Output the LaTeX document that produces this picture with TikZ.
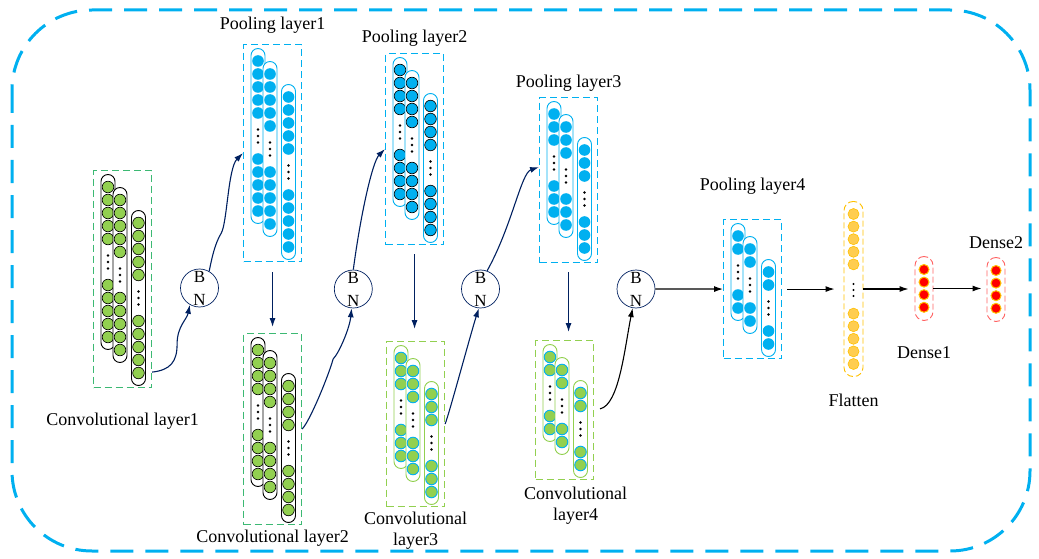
\documentclass[tikz,border=0pt]{standalone}
\usepackage{fontspec}
\setmainfont{Liberation Serif}
\usetikzlibrary{positioning,arrows.meta,calc}
\definecolor{skyblue}{RGB}{0,176,240}
\definecolor{leafgreen}{RGB}{146,208,80}
\definecolor{boxgreen}{RGB}{60,185,115}
\definecolor{navyline}{RGB}{0,32,96}
\definecolor{amber}{RGB}{255,192,0}
\definecolor{paleamber}{RGB}{255,205,80}
\definecolor{palered}{RGB}{255,100,100}
\tikzset{
  lbl/.style={font=\fontsize{18}{21}\selectfont, inner sep=0pt, align=center},
  bnorm/.style={circle, draw=navyline, line width=0.7pt, minimum size=38pt, inner sep=0pt, align=center, font=\fontsize{17}{23}\selectfont},
  flow/.style={-{Latex[length=9pt,width=6pt]}, navyline, line width=1.1pt},
  blackflow/.style={-{Latex[length=9pt,width=6pt]}, black, line width=1.1pt},
  mapbox/.style={line width=1.1pt, dash pattern=on 7pt off 4pt, minimum width=58pt, inner sep=0pt},
  convbox/.style={mapbox, draw=boxgreen},
  poolbox/.style={mapbox, draw=skyblue},
  lightbox/.style={mapbox, draw=leafgreen},
  convcap/.style={draw=black, fill=white, line width=0.9pt, rounded corners=7pt},
  poolcap/.style={draw=skyblue, fill=white, line width=0.9pt, rounded corners=7pt},
  lightcap/.style={draw=leafgreen, fill=white, line width=0.9pt, rounded corners=7pt},
  convunit/.style={fill=leafgreen, draw=black, line width=0.6pt},
  poolunit/.style={fill=skyblue},
  darkunit/.style={fill=skyblue, draw=black, line width=0.6pt},
  lightunit/.style={fill=leafgreen, draw=skyblue, line width=0.9pt},
  flatcap/.style={draw=amber, dash pattern=on 6pt off 3pt, line width=0.9pt, rounded corners=9pt, minimum width=19pt, minimum height=175pt, inner sep=0pt},
  densecap/.style={draw=palered, dash pattern=on 6pt off 3pt, line width=0.9pt, rounded corners=9pt, minimum width=18pt, minimum height=64pt, inner sep=0pt},
  flatunit/.style={fill=paleamber, draw=amber, line width=0.6pt},
  denseunit/.style={fill=red, draw=amber, line width=1pt},
  frame/.style={draw=skyblue, line width=3pt, dash pattern=on 23pt off 12pt, rounded corners=80pt}
}
% feature map: name, top left x/y, units per half, box, capsule and unit styles
\newcommand{\fmap}[7]{%
  \pgfmathsetmacro{\fmh}{113+26*(#4-1)}%
  \node[#5, minimum height=\fmh pt, anchor=north west] (#1) at (#2,#3) {};%
  \foreach \dx/\dy in {0/0,12/13,30.5/36} {%
    \pgfmathsetmacro{\fmx}{#2+15+\dx}%
    \pgfmathsetmacro{\fmy}{#3+17+\dy}%
    \pgfmathsetmacro{\fmb}{\fmy+26*(#4-1)+46}%
    \pgfmathsetmacro{\fmd}{\fmy+13*(#4-1)+23}%
    \draw[#6] (\fmx-7,\fmy-12.5) rectangle (\fmx+7,\fmb+12.5);%
    \foreach \k in {1,...,#4} {%
      \path[#7] (\fmx,\fmy+13*\k-13) circle (5.8pt);%
      \path[#7] (\fmx,\fmb-13*\k+13) circle (5.8pt);%
    }%
    \foreach \j in {-6.5,0,6.5}
      \fill (\fmx,\fmd+\j) circle (1.3pt);%
  }%
}

\begin{document}
\begin{tikzpicture}[x=1pt,y=-1pt]
  \useasboundingbox (0,0) rectangle (1039,559);
  \draw[frame] (12,10) rectangle (1030,551);

  % feature maps
  \fmap{conv1}{93}{170}{5}{convbox}{convcap}{convunit}
  \fmap{pool1}{243}{44}{5}{poolbox}{poolcap}{poolunit}
  \fmap{conv2}{243}{333}{4}{convbox}{convcap}{convunit}
  \fmap{pool2}{385}{53}{4}{poolbox}{poolcap}{darkunit}
  \fmap{conv3}{386}{341}{3}{lightbox}{lightcap}{lightunit}
  \fmap{pool3}{539}{97}{3}{poolbox}{poolcap}{poolunit}
  \fmap{conv4}{535}{340}{2}{lightbox}{lightcap}{lightunit}
  \fmap{pool4}{723}{219}{2}{poolbox}{poolcap}{poolunit}

  % batch norm
  \node[bnorm] (bn1) at (199.5,288) {B\\N};
  \node[bnorm] (bn2) at (353.3,289) {B\\N};
  \node[bnorm] (bn3) at (480.5,289) {B\\N};
  \node[bnorm] (bn4) at (636,289) {B\\N};

  % flatten and dense
  \node[flatcap] (flatten) at (853.5,289) {};
  \foreach \k in {0,...,4} {
    \path[flatunit] (853.5,214+12.6*\k) circle (5.5pt);
    \path[flatunit] (853.5,364-12.6*\k) circle (5.5pt);
  }
  \foreach \j in {-6,0,6}
    \fill (853.5,290+\j) circle (1.2pt);
  \node[densecap] (dense1) at (924,288.5) {};
  \node[densecap] (dense2) at (996,289.5) {};
  \foreach \k in {0,...,3} {
    \path[denseunit] (924,269.5+12.6*\k) circle (5pt);
    \path[denseunit] (996,270.5+12.6*\k) circle (5pt);
  }

  % connections
  \coordinate (c1out) at ($(conv1.south east)+(0,-16)$);
  \coordinate (p3in) at ($(pool3.west)+(0,-13)$);
  \draw[flow] (c1out) .. controls +(18,-2) and +(0,18) .. ++(25,-28)
    .. controls +(0,-18) and +(-3,15) .. (bn1.240);
  \draw[flow] (bn1.60) .. controls +(3,-15) and +(-6,10) .. ++(12,-38)
    .. controls +(6,-10) and +(-15,15) .. (pool1.west);
  \draw[flow, shorten <=10pt, shorten >=6pt] (pool1.south) -- (conv2.north);
  \draw[flow] (conv2.east) .. controls +(8,-8) and +(-4,15) .. ++(31,-70)
    .. controls +(6,-6) and +(-2,20) .. (bn2.265);
  \draw[flow] (bn2.90) .. controls +(8,-60) and +(-12,12) .. (pool2.west);
  \draw[flow, shorten <=9pt, shorten >=12pt] (pool2.south) -- (pool2.south |- conv3.north);
  \draw[flow] (conv3.east) .. controls +(4,-10) and +(-8,25) .. (bn3.265);
  \draw[flow] (bn3.70) .. controls +(25,-45) and +(-18,6) .. (p3in);
  \draw[flow, shorten <=9pt, shorten >=8pt] (pool3.south) -- (pool3.south |- conv4.north);
  \draw[blackflow, shorten <=6pt] (conv4.east) .. controls +(25,-5) and +(-8,40) .. (bn4.260);
  \draw[blackflow] (bn4.east) -- (pool4.west);
  \draw[blackflow, shorten <=5pt, shorten >=9pt] (pool4.east) -- (pool4.east -| flatten.west);
  \draw[blackflow, shorten >=6pt] (flatten.east) -- (flatten.east -| dense1.west);
  \draw[blackflow, shorten >=5pt] (dense1.east) -- (dense1.east -| dense2.west);

  % labels
  \node[lbl, above=10pt of pool1] (pool1text) {Pooling layer1};
  \node[lbl, above=6pt of pool2] (pool2text) {Pooling layer2};
  \node[lbl, above=5pt of pool3] (pool3text) {Pooling layer3};
  \node[lbl, above=24pt of pool4] (pool4text) {Pooling layer4};
  \node[lbl, below=25pt of conv1] (conv1text) {Convolutional layer1};
  \node[lbl, below=5pt of conv2] (conv2text) {Convolutional layer2};
  \node[lbl, below=5pt of conv3] (conv3text) {Convolutional\\layer3};
  \node[lbl, below=7pt of conv4, xshift=11pt] (conv4text) {Convolutional\\layer4};
  \node[lbl, below=17pt of flatten] (flattext) {Flatten};
  \node[lbl, below=25pt of dense1] (dense1text) {Dense1};
  \node[lbl, above=8pt of dense2] (dense2text) {Dense2};
\end{tikzpicture}
\end{document}
